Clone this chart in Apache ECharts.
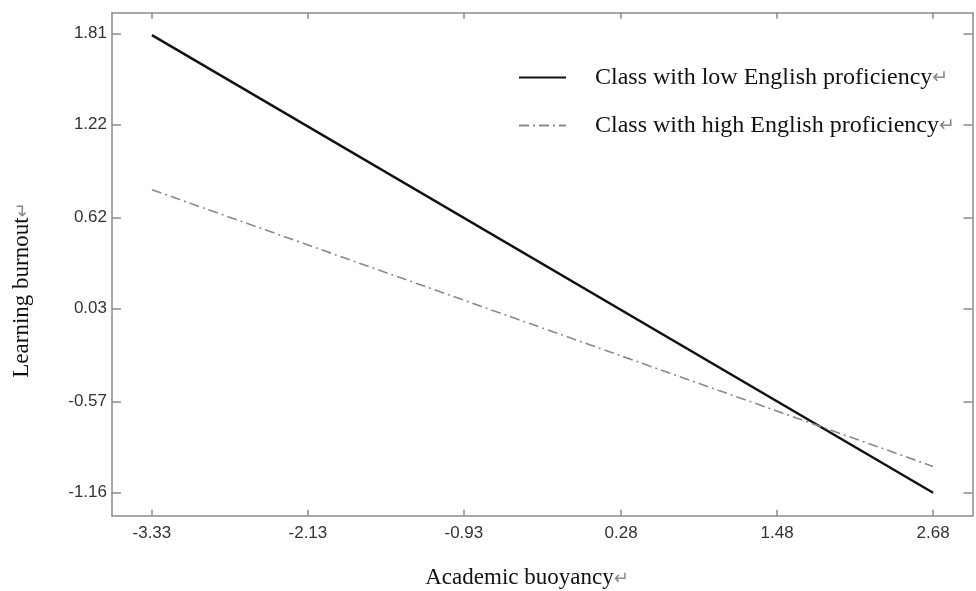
<!DOCTYPE html>
<html>
<head>
<meta charset="utf-8">
<script src="https://cdn.jsdelivr.net/npm/echarts@6/dist/echarts.min.js"></script>
<style>
html,body{margin:0;padding:0;background:#fff;}
#chart{width:976px;height:591px;}
</style>
</head>
<body>
<div id="chart"></div>
<script>
// ---- data ----
const xTicks = [-3.33, -2.13, -0.93, 0.28, 1.48, 2.68];
const yTicks = [1.81, 1.22, 0.62, 0.03, -0.57, -1.16];
const buoyancy = [-3.33, 2.68];
const lowProficiency = [1.80, -1.16];
const highProficiency = [0.80, -0.99];
const seriesNames = ['Class with low English proficiency', 'Class with high English proficiency'];
const xTitle = 'Academic buoyancy';
const yTitle = 'Learning burnout';
const mark = '\u21B5';

const serif = "'Liberation Serif', 'Times New Roman', serif";
const sans = "'Liberation Sans', Arial, sans-serif";
const axisGray = '#8a8a8a';

function pairs(xs, ys) { return xs.map((x, i) => [x, ys[i]]); }

const chart = echarts.init(document.getElementById('chart'), null, {renderer: 'canvas'});

const markRich = {m: {fontFamily: "'DejaVu Sans', sans-serif", fontSize: 19, color: '#888', padding: [2, 0, 0, 0]}};
const titleMark = {m: {font: "18px 'DejaVu Sans', sans-serif", fill: '#888', padding: [2, 0, 0, 0]}};

const xCommon = {
  type: 'value', min: -3.637, max: 2.983,
  axisLine: {show: true, onZero: false, lineStyle: {color: axisGray, width: 1.5}},
  axisTick: {show: true, inside: true, length: 6, customValues: xTicks, lineStyle: {color: axisGray, width: 1.5}},
  splitLine: {show: false}
};
const yCommon = {
  type: 'value', min: -1.309, max: 1.945,
  axisLine: {show: true, onZero: false, lineStyle: {color: axisGray, width: 1.5}},
  axisTick: {show: true, inside: true, length: 9, customValues: yTicks, lineStyle: {color: axisGray, width: 1.5}},
  splitLine: {show: false}
};

chart.setOption({
  animation: false,
  backgroundColor: '#fff',
  grid: {left: 112, top: 12.7, right: 3.5, bottom: 75.3, containLabel: false},
  legend: {
    orient: 'vertical', left: 518, top: 65, itemWidth: 47, itemHeight: 14, itemGap: 23,
    padding: 0,
    itemStyle: {opacity: 0},
    formatter: name => name + '{m|' + mark + '}',
    textStyle: {fontFamily: serif, fontSize: 24, color: '#111', lineHeight: 25, padding: [0, 0, 0, 24], rich: markRich},
    data: seriesNames
  },
  xAxis: [
    Object.assign({}, xCommon, {
      position: 'bottom',
      axisLabel: {show: true, customValues: xTicks, margin: 9, fontFamily: sans, fontSize: 17, color: '#333',
        formatter: v => v.toFixed(2)}
    }),
    Object.assign({}, xCommon, {position: 'top', axisLabel: {show: false}})
  ],
  yAxis: [
    Object.assign({}, yCommon, {
      position: 'left',
      axisLabel: {show: true, customValues: yTicks, margin: 5, fontFamily: sans, fontSize: 17, color: '#333',
        formatter: v => v.toFixed(2)}
    }),
    Object.assign({}, yCommon, {position: 'right', axisLabel: {show: false}})
  ],
  graphic: [
    {type: 'text', x: 527, y: 578, style: {text: xTitle + '{m|' + mark + '}', font: '23px ' + serif, fill: '#111',
      align: 'center', verticalAlign: 'middle', rich: titleMark}},
    {type: 'text', x: 22, y: 290, rotation: Math.PI / 2,
      style: {text: yTitle + '{m|' + mark + '}', font: '23px ' + serif, fill: '#111', align: 'center', verticalAlign: 'middle',
        rich: titleMark}}
  ],
  series: [
    {name: seriesNames[0], type: 'line', data: pairs(buoyancy, lowProficiency), symbol: 'none',
      lineStyle: {color: '#111', width: 2.4}, itemStyle: {color: '#111'}},
    {name: seriesNames[1], type: 'line', data: pairs(buoyancy, highProficiency), symbol: 'none',
      lineStyle: {color: '#8a8a8a', width: 1.6, type: [10, 4, 2, 4]}, itemStyle: {color: '#8a8a8a'}}
  ]
});
</script>
</body>
</html>
